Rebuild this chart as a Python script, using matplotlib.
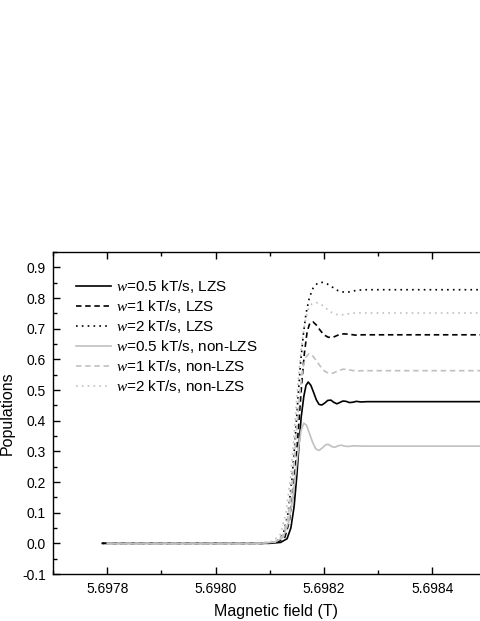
import matplotlib
matplotlib.use('Agg')
import matplotlib.pyplot as plt
from matplotlib.ticker import MultipleLocator, FormatStrFormatter

plt.rcParams['font.family'] = ['Liberation Sans', 'DejaVu Sans']
plt.rcParams['mathtext.fontset'] = 'custom'
plt.rcParams['mathtext.it'] = 'Liberation Serif:italic'
plt.rcParams['mathtext.rm'] = 'Liberation Sans'
plt.rcParams['axes.unicode_minus'] = False

# LZS curves (black)
lzs_05_x = [5.697791, 5.698100, 5.698120, 5.698132, 5.698139, 5.698145, 5.698150,
            5.698154, 5.698158, 5.698163, 5.698167, 5.698171, 5.698176, 5.698181,
            5.698186, 5.698191, 5.698196, 5.698202, 5.698207, 5.698213, 5.698218,
            5.698224, 5.698229, 5.698235, 5.698241, 5.698247, 5.698253, 5.698260,
            5.698268, 5.698280, 5.698300, 5.698800]
lzs_05_y = [0.000, 0.000, 0.003, 0.015, 0.05, 0.12, 0.22,
            0.32, 0.41, 0.48, 0.515, 0.526, 0.515, 0.492,
            0.468, 0.453, 0.451, 0.458, 0.466, 0.467, 0.460,
            0.455, 0.459, 0.464, 0.463, 0.459, 0.460, 0.463,
            0.461, 0.462, 0.462, 0.462]

lzs_1_x = [5.697791, 5.698090, 5.698115, 5.698128, 5.698136, 5.698143, 5.698149,
           5.698154, 5.698159, 5.698164, 5.698169, 5.698174, 5.698180, 5.698186,
           5.698193, 5.698200, 5.698208, 5.698217, 5.698226, 5.698236, 5.698246,
           5.698258, 5.698272, 5.698800]
lzs_1_y = [0.000, 0.000, 0.004, 0.02, 0.07, 0.16, 0.28,
           0.40, 0.52, 0.62, 0.69, 0.718, 0.722, 0.712,
           0.695, 0.680, 0.672, 0.672, 0.679, 0.683, 0.682,
           0.679, 0.680, 0.680]

lzs_2_x = [5.697791, 5.698090, 5.698112, 5.698125, 5.698134, 5.698141, 5.698147,
           5.698152, 5.698157, 5.698162, 5.698167, 5.698173, 5.698180, 5.698188,
           5.698197, 5.698206, 5.698216, 5.698226, 5.698237, 5.698248, 5.698260,
           5.698275, 5.698800]
lzs_2_y = [0.000, 0.000, 0.005, 0.03, 0.10, 0.21, 0.34,
           0.47, 0.59, 0.68, 0.75, 0.80, 0.832, 0.848,
           0.851, 0.846, 0.835, 0.824, 0.819, 0.820, 0.825,
           0.827, 0.827]

# non-LZS curves (grey)
non_05_x = [5.697800, 5.698080, 5.698110, 5.698125, 5.698135, 5.698142, 5.698148,
            5.698153, 5.698158, 5.698163, 5.698168, 5.698173, 5.698179, 5.698185,
            5.698191, 5.698197, 5.698203, 5.698208, 5.698214, 5.698220, 5.698226,
            5.698232, 5.698238, 5.698246, 5.698255, 5.698270, 5.698800]
non_05_y = [0.000, 0.000, 0.004, 0.02, 0.07, 0.14, 0.23,
            0.31, 0.37, 0.392, 0.385, 0.36, 0.33, 0.308,
            0.303, 0.311, 0.321, 0.323, 0.316, 0.313, 0.318,
            0.320, 0.317, 0.316, 0.318, 0.317, 0.317]

non_1_x = [5.697800, 5.698080, 5.698110, 5.698124, 5.698133, 5.698140, 5.698146,
           5.698151, 5.698156, 5.698161, 5.698166, 5.698172, 5.698178, 5.698185,
           5.698193, 5.698201, 5.698209, 5.698217, 5.698226, 5.698236, 5.698246,
           5.698258, 5.698272, 5.698800]
non_1_y = [0.000, 0.000, 0.005, 0.025, 0.08, 0.17, 0.29,
           0.40, 0.50, 0.57, 0.605, 0.618, 0.614, 0.598,
           0.578, 0.562, 0.554, 0.555, 0.563, 0.568, 0.566,
           0.562, 0.563, 0.563]

non_2_x = [5.697800, 5.698070, 5.698105, 5.698120, 5.698130, 5.698138, 5.698144,
           5.698149, 5.698154, 5.698159, 5.698165, 5.698171, 5.698178, 5.698186,
           5.698195, 5.698205, 5.698215, 5.698226, 5.698238, 5.698250, 5.698264,
           5.698280, 5.698800]
non_2_y = [0.000, 0.000, 0.006, 0.03, 0.10, 0.21, 0.33,
           0.45, 0.56, 0.65, 0.72, 0.763, 0.781, 0.785,
           0.779, 0.765, 0.752, 0.745, 0.746, 0.750, 0.752,
           0.751, 0.751]

labels = ['$w$=0.5 kT/s, LZS', '$w$=1 kT/s, LZS', '$w$=2 kT/s, LZS',
          '$w$=0.5 kT/s, non-LZS', '$w$=1 kT/s, non-LZS', '$w$=2 kT/s, non-LZS']
x_ticks = [5.6978, 5.6980, 5.6982, 5.6984]

grey = '#c0c0c0'
dash = (0, (3.3, 2.2))
dot = (0, (1, 2.5))

fig = plt.figure(figsize=(4.8, 6.21), dpi=100)
ax = fig.add_axes([53 / 480, 47 / 621, 596 / 480, 322 / 621])

lw = 1.2
ax.plot(lzs_05_x, lzs_05_y, color='black', lw=lw, label=labels[0])
ax.plot(lzs_1_x, lzs_1_y, color='black', lw=lw, ls=dash, label=labels[1])
ax.plot(lzs_2_x, lzs_2_y, color='black', lw=lw, ls=dot, label=labels[2])
ax.plot(non_05_x, non_05_y, color=grey, lw=lw, label=labels[3])
ax.plot(non_1_x, non_1_y, color=grey, lw=lw, ls=dash, label=labels[4])
ax.plot(non_2_x, non_2_y, color=grey, lw=lw, ls=dot, label=labels[5])

ax.set_xlim(5.6977, 5.6988)
ax.set_ylim(-0.1, 0.95)
ax.set_xticks(x_ticks)
ax.xaxis.set_minor_locator(MultipleLocator(0.0001))
ax.xaxis.set_major_formatter(FormatStrFormatter('%.4f'))
ax.yaxis.set_major_locator(MultipleLocator(0.1))
ax.yaxis.set_minor_locator(MultipleLocator(0.05))
ax.yaxis.set_major_formatter(FormatStrFormatter('%.1f'))

ax.tick_params(which='both', direction='in', top=True, right=True,
               labelsize=10, width=1.0)
ax.tick_params(which='major', length=5)
ax.tick_params(which='minor', length=3)
ax.tick_params(axis='x', pad=6)
ax.tick_params(axis='y', pad=5)
for s in ax.spines.values():
    s.set_linewidth(1.0)

ax.set_xlabel('Magnetic field (T)', fontsize=11.5)
ax.xaxis.set_label_coords((276 - 53) / 596, -30 / 322)
ax.set_ylabel('Populations', fontsize=11.5)
ax.yaxis.set_label_coords(-38 / 596, 0.5)

ax.legend(loc='upper left', frameon=False, fontsize=11, handlelength=2.3,
          handletextpad=0.3, labelspacing=0.2, borderaxespad=0.0,
          bbox_to_anchor=(17 / 596, 1 - 20 / 322))

fig.savefig('out.png', dpi=100)
